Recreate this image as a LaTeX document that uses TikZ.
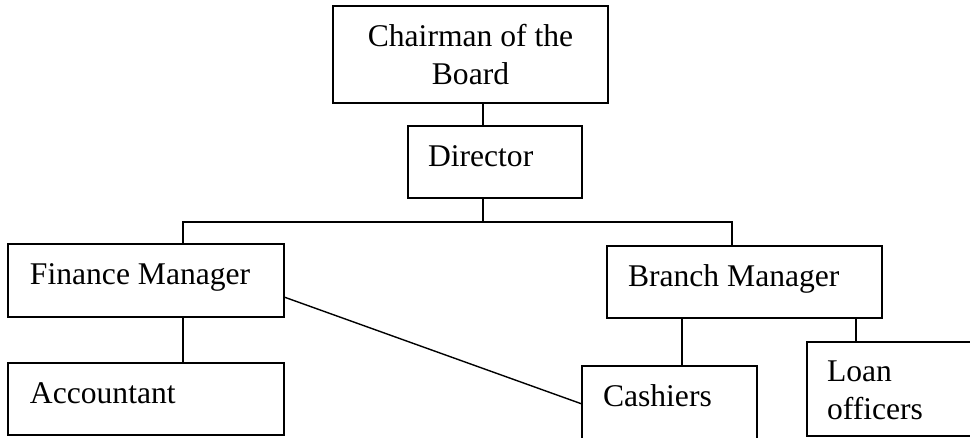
\documentclass[tikz,border=0pt]{standalone}
\usepackage{fontspec}
\setmainfont{Liberation Serif}
\begin{document}
\begin{tikzpicture}[x=1pt,y=-1pt,
  box/.style={draw=black,line width=1.4pt,rectangle,inner sep=0pt,outer sep=0pt},
  lbl/.style={inner sep=0pt,outer sep=0pt,font=\fontsize{31.6}{38}\selectfont},
  link/.style={draw=black,line width=1.4pt}]
\useasboundingbox (0,0) rectangle (970,438);
\clip (0,0) rectangle (970,438);
\fill[white] (0,0) rectangle (970,438);
% boxes
\node[box,minimum width=275pt,minimum height=97pt] (chair) at (470.5,54.5) {};
\node[box,minimum width=174pt,minimum height=72pt] (dir) at (495,162) {};
\node[box,minimum width=276pt,minimum height=73pt] (fin) at (146,280.5) {};
\node[box,minimum width=276pt,minimum height=72pt] (acc) at (146,399) {};
\node[box,minimum width=275pt,minimum height=72pt] (bra) at (744.5,282) {};
\node[box,minimum width=175pt,minimum height=80pt] (cas) at (669.5,406) {};
\node[box,minimum width=200pt,minimum height=94pt] (loan) at (907,389) {};
% texts
\node[lbl,anchor=base] (chairA) at (470.5,47) {Chairman of the};
\node[lbl,anchor=base] (chairB) at (470.5,85) {Board};
\node[lbl,anchor=base west] (dirT) at (428,167) {Director};
\node[lbl,anchor=base west] (finT) at (30,285) {Finance Manager};
\node[lbl,anchor=base west] (accT) at (30,404) {Accountant};
\node[lbl,anchor=base west] (braT) at (628,287) {Branch Manager};
\node[lbl,anchor=base west] (casT) at (603,407) {Cashiers};
\node[lbl,anchor=base west] (loanA) at (827,382) {Loan};
\node[lbl,anchor=base west] (loanB) at (827,420) {officers};
% connector helpers
\coordinate (xmid) at (483,222);
\coordinate (xfin) at (183,0);
\coordinate (xbra) at (732,0);
\coordinate (xcas) at (682,0);
\coordinate (xloan) at (856,0);
\coordinate (finR) at (0,297);
\coordinate (casL) at (0,404);
% connectors
\draw[link] (chair.south -| xmid) -- (dir.north -| xmid);
\draw[link] (dir.south -| xmid) -- (xmid);
\draw[link] (fin.north -| xfin) -- (xmid -| xfin) -- (xmid -| xbra) -- (bra.north -| xbra);
\draw[link] (fin.south -| xfin) -- (acc.north -| xfin);
\draw[link] (bra.south -| xcas) -- (cas.north -| xcas);
\draw[link] (bra.south -| xloan) -- (loan.north -| xloan);
\draw[link] (fin.east |- finR) -- (cas.west |- casL);
\end{tikzpicture}
\end{document}
